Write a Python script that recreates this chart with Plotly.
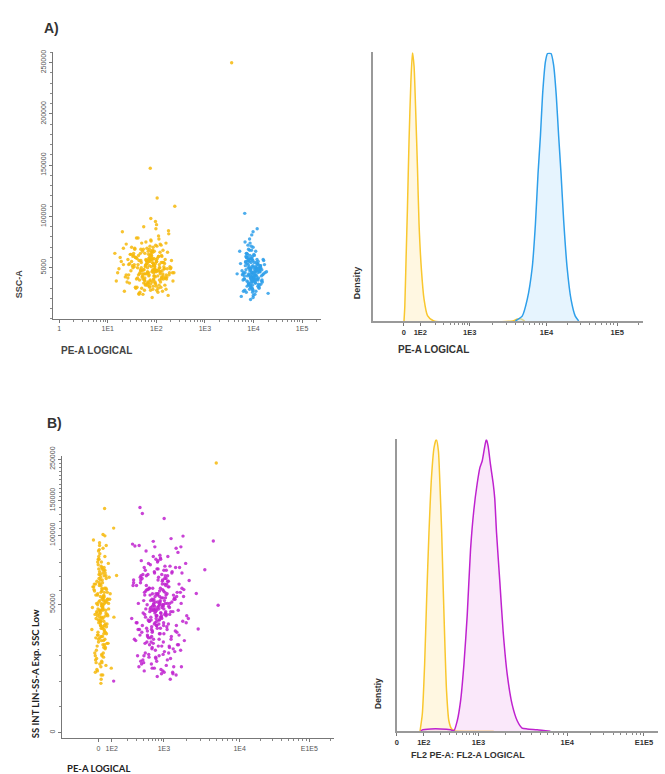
import numpy as np
import plotly.graph_objects as go

# ---------------- DATA ----------------
# Panel A scatter: PE-A (log) vs SSC-A (values in thousands for SSC-A lists)
a_yel_x = [72, 45, 110, 88, 31, 150, 64, 95, 22, 58,
           130, 76, 41, 180, 67, 100, 52, 85, 28, 120,
           61, 93, 37, 205, 70, 48, 115, 82, 18, 140,
           66, 98, 55, 79, 34, 160, 73, 44, 125, 90,
           26, 105, 60, 87, 39, 230, 69, 50, 118, 84,
           15, 135, 63, 96, 57, 78, 30, 170, 75, 42,
           112, 91, 24, 145, 65, 102, 53, 81, 36, 190,
           71, 47, 122, 86, 20, 155, 62, 99, 56, 80,
           33, 128, 74, 46, 108, 89, 27, 165, 68, 94,
           51, 83, 38, 240, 59, 49, 116, 77, 17, 138,
           64, 97, 54, 92, 32, 175, 72, 43, 113, 85,
           25, 148, 66, 101, 58, 79, 40, 200, 70, 45,
           119, 88, 21, 132, 61, 104, 52, 76, 35, 158,
           75, 3550]
a_yel_y_k = [52, 38, 61, 45, 70, 33, 55, 48, 27, 64,
             41, 58, 50, 83, 36, 47, 66, 29, 54, 44,
             75, 49, 31, 57, 42, 68, 53, 21, 60, 39,
             46, 88, 35, 51, 62, 43, 56, 25, 72, 48,
             40, 59, 34, 52, 79, 45, 63, 30, 50, 67,
             37, 55, 44, 95, 28, 58, 47, 65, 38, 53,
             61, 42, 73, 49, 33, 56, 24, 46, 69, 51,
             43, 64, 36, 54, 85, 40, 57, 32, 48, 62,
             50, 39, 71, 45, 26, 59, 53, 41, 66, 35,
             47, 58, 30, 110, 44, 55, 38, 63, 49, 42,
             57, 34, 68, 46, 52, 23, 60, 43, 78, 48,
             36, 54, 45, 92, 40, 61, 31, 50, 56, 44,
             65, 39, 53, 47, 58, 118, 42, 28, 51, 74,
             147, 250]
a_yel_x2 = [56, 128, 35, 82, 103, 47, 158, 69, 23, 91,
            115, 60, 40, 186, 77, 53, 96, 29, 134, 84,
            64, 107, 19, 73, 143, 50, 88, 37, 121, 67,
            98, 44, 168, 79, 27, 111, 58, 92, 33, 150,
            71, 126, 48, 86, 14, 102, 62, 215, 39, 81,
            54, 137, 76, 31, 95, 66, 178, 43, 109, 87,
            24, 120, 59, 74, 152, 46, 99, 36, 83, 68,
            130, 52, 90, 21, 114, 63, 195, 41, 78, 105,
            57, 142, 34, 89, 70, 16, 124, 61, 97, 49,
            80, 162, 44, 103, 28, 75, 136, 55, 93, 38,
            118, 65, 86, 26, 146, 72, 51, 100, 42, 183,
            60, 94, 30, 111, 77, 48, 127, 69, 85, 220]
a_yel_y2_k = [44, 62, 53, 36, 71, 48, 29, 57, 41, 66,
              50, 33, 59, 45, 77, 39, 54, 63, 27, 47,
              69, 42, 56, 31, 51, 74, 38, 60, 46, 35,
              58, 24, 49, 65, 43, 81, 37, 52, 61, 40,
              32, 55, 47, 70, 64, 28, 53, 45, 39, 59,
              48, 67, 34, 56, 41, 50, 86, 62, 30, 54,
              43, 73, 51, 37, 58, 26, 46, 68, 55, 35,
              61, 44, 52, 69, 33, 57, 49, 40, 76, 47,
              38, 55, 64, 42, 59, 45, 31, 53, 72, 50,
              66, 39, 57, 47, 35, 62, 44, 90, 51, 60,
              46, 54, 32, 58, 49, 68, 41, 56, 79, 43,
              52, 36, 63, 48, 98, 57, 40, 45, 65, 37]
a_blu_x = [9300, 7400, 11800, 8600, 13500, 6200, 10200, 8000, 15200, 9800,
           7000, 12400, 8900, 5600, 10800, 9500, 14300, 7800, 11200, 8300,
           16800, 9100, 6700, 10500, 8800, 12900, 7600, 9900, 5200, 11500,
           8500, 13800, 9600, 7200, 10900, 6500, 12100, 9200, 18500, 8100,
           10100, 7900, 14800, 9400, 6900, 11600, 8700, 13200, 7300, 10400,
           4600, 9700, 12600, 8400, 11000, 7700, 9000, 15800, 6400, 10700,
           8200, 12200, 9500, 7100, 13900, 8900, 10300, 5900, 11900, 9300,
           7500, 16200, 8800, 10600, 6800, 12700, 9100, 7900, 11300, 20000,
           8600, 10000, 13100, 7400, 9800, 6100, 11700, 8300, 14600, 9600,
           6600]
a_blu_y_k = [45, 32, 58, 40, 51, 27, 63, 43, 36, 70,
             48, 38, 55, 22, 46, 61, 34, 50, 42, 29,
             53, 44, 75, 37, 49, 31, 57, 41, 66, 47,
             35, 52, 26, 60, 43, 39, 54, 82, 46, 33,
             40, 68, 48, 30, 56, 42, 19, 50, 37, 62,
             44, 28, 53, 47, 35, 72, 41, 58, 39, 24,
             51, 45, 33, 64, 49, 38, 55, 43, 88, 36,
             42, 57, 31, 46, 52, 40, 67, 34, 48, 25,
             59, 39, 47, 54, 21, 44, 50, 78, 37, 45,
             103]
a_blu_x2 = [9000, 11400, 7700, 10600, 8400, 13000, 6300, 9700, 12000, 8100,
            10300, 7100, 14100, 9200, 11100, 5800, 8700, 12500, 9500, 7600,
            10800, 8300, 15500, 9000, 6600, 11800, 8800, 13400, 7300, 10000,
            9400, 12300, 8000, 17200, 10500, 7000, 9900, 11500, 5400, 8600,
            12800, 9100, 7900, 10700, 14000, 8500, 6100, 11300, 9600, 8200,
            10100, 13600, 7500, 9300, 12100, 8900, 16000, 6900, 10400, 9800,
            7800, 11000, 8700, 14500, 9400, 6700, 12600, 10200, 8300, 11700,
            9100, 7200, 13300, 10900, 8000, 15000, 9700, 6500, 11200, 8800]
a_blu_y2_k = [41, 55, 36, 48, 62, 30, 45, 52, 39, 58,
              44, 26, 50, 38, 66, 47, 33, 56, 42, 60,
              35, 49, 43, 71, 28, 53, 40, 46, 64, 37,
              51, 32, 57, 45, 39, 61, 23, 48, 54, 42,
              47, 59, 34, 43, 52, 74, 38, 50, 29, 56,
              40, 46, 63, 36, 49, 31, 44, 55, 41, 85,
              53, 37, 48, 42, 58, 45, 34, 50, 67, 39,
              46, 60, 33, 51, 44, 38, 57, 42, 27, 49]

# Panel A histogram (logical channel 0-1024, normalised density)
ha_yel_x = [118, 121, 126, 131, 137, 144, 150, 156, 162, 169, 175, 184, 194, 207, 231, 530, 545, 560, 575]
ha_yel_y = [0, 0.055, 0.24, 0.42, 0.67, 0.89, 1.0, 0.95, 0.79, 0.57, 0.36, 0.19, 0.08, 0.02, 0, 0, 0.006, 0.008, 0]
ha_blu_x = [540, 566, 585, 604, 616, 626, 635, 644, 654, 662, 675, 685, 695, 704, 713, 723, 736, 751, 767, 780]
ha_blu_y = [0, 0.018, 0.08, 0.20, 0.36, 0.55, 0.69, 0.855, 0.966, 0.996, 0.996, 0.953, 0.84, 0.69,
            0.55, 0.375, 0.20, 0.08, 0.018, 0]

# Panel B scatter (logical channels 0-1024 on both axes)
b_yel_x = [150, 138, 162, 145, 171, 131, 155, 142, 168, 127,
           158, 147, 135, 176, 152, 140, 164, 119, 149, 157,
           143, 166, 133, 154, 182, 146, 139, 160, 124, 151,
           137, 159, 148, 172, 129, 153, 144, 167, 113, 156,
           161, 141, 150, 134, 175, 147, 158, 126, 163, 145,
           152, 136, 169, 143, 157, 121, 148, 165, 139, 154,
           130, 160, 146, 178, 141, 155, 134, 163, 150, 117,
           149, 170, 137, 153, 144, 186, 128, 159, 142, 166,
           156, 132, 151, 145, 173, 138, 162, 123, 154, 147,
           140, 164, 135, 158, 148, 125, 168, 143, 152, 196,
           161, 195, 581, 206]
b_yel_y = [480, 350, 610, 420, 530, 290, 690, 450, 380, 560,
           510, 260, 640, 470, 400, 580, 330, 720, 440, 500,
           365, 590, 455, 230, 525, 410, 660, 490, 310, 545,
           430, 620, 370, 505, 275, 565, 460, 700, 395, 515,
           340, 555, 485, 245, 635, 425, 520, 300, 600, 465,
           575, 385, 495, 670, 355, 540, 215, 445, 615, 475,
           320, 530, 410, 585, 465, 740, 375, 500, 280, 550,
           490, 345, 650, 435, 560, 255, 520, 395, 605, 455,
           405, 570, 300, 515, 445, 680, 360, 535, 470, 200,
           595, 415, 485, 330, 625, 450, 540, 270, 505, 440,
           834, 763, 999, 591]
b_yel_x2 = [146, 159, 133, 152, 168, 140, 155, 127, 161, 144,
            151, 137, 164, 148, 122, 157, 142, 174, 135, 153,
            160, 145, 131, 156, 149, 180, 139, 162, 128, 150,
            143, 166, 154, 134, 158, 147, 115, 163, 141, 170,
            152, 129, 157, 146, 165, 138, 151, 176, 132, 159,
            148, 162, 136, 155, 120, 144, 167, 150, 139, 157,
            134, 153, 171, 142, 160, 147, 126, 156, 145, 164,
            154, 140, 149, 173, 137, 158, 131, 151, 166, 143]
b_yel_y2 = [455, 590, 335, 510, 405, 650, 470, 285, 545, 425,
            615, 375, 495, 230, 560, 440, 700, 345, 525, 480,
            390, 575, 460, 310, 640, 505, 420, 735, 365, 535,
            500, 265, 600, 445, 380, 555, 475, 325, 685, 415,
            540, 435, 295, 585, 465, 360, 620, 490, 250, 515,
            400, 660, 470, 340, 550, 430, 580, 305, 495, 610,
            520, 370, 450, 710, 410, 530, 240, 485, 595, 385,
            465, 565, 355, 505, 630, 425, 490, 275, 545, 440]
b_mag_x = [365, 330, 398, 348, 420, 305, 372, 355, 441, 318,
           386, 340, 362, 410, 292, 378, 352, 430, 325, 368,
           345, 392, 312, 375, 458, 338, 360, 402, 285, 383,
           357, 415, 333, 370, 300, 395, 350, 437, 322, 380,
           363, 342, 405, 310, 388, 468, 354, 328, 376, 418,
           296, 367, 346, 399, 336, 446, 359, 315, 384, 352,
           425, 332, 371, 270, 390, 344, 412, 361, 308, 379,
           349, 435, 326, 366, 403, 290, 374, 341, 452, 358,
           319, 387, 353, 422, 335, 369, 278, 396, 347, 408,
           364, 303, 381, 339, 428, 356, 316, 393, 343, 476,
           373, 327, 401, 351, 288, 385, 362, 433, 311, 377,
           344, 414, 331, 368, 297, 391, 356, 448, 323, 382,
           360, 337, 406, 314, 389, 263, 371, 348, 426, 357,
           301, 379, 340, 397, 329, 443, 366, 320, 387, 354,
           294, 303, 385, 275, 570, 538, 506, 513, 588, 479, 456, 195]
b_mag_y = [470, 340, 590, 415, 520, 285, 650, 445, 375, 555,
           500, 255, 615, 460, 395, 570, 320, 690, 430, 485,
           360, 580, 450, 235, 515, 405, 640, 480, 300, 535,
           425, 605, 365, 495, 270, 560, 455, 675, 390, 510,
           335, 545, 475, 245, 625, 420, 525, 295, 595, 460,
           565, 380, 490, 660, 350, 530, 225, 440, 610, 470,
           315, 520, 400, 575, 455, 715, 370, 495, 275, 540,
           480, 340, 635, 430, 550, 260, 510, 390, 600, 445,
           400, 560, 295, 505, 440, 665, 355, 525, 465, 215,
           585, 410, 480, 325, 620, 445, 535, 265, 500, 435,
           455, 305, 570, 420, 490, 240, 645, 385, 530, 475,
           345, 600, 460, 515, 280, 555, 410, 695, 370, 485,
           520, 395, 450, 310, 590, 435, 545, 255, 505, 465,
           385, 575, 330, 490, 425, 620, 360, 540, 450, 290,
           838, 816, 798, 698, 716, 612, 526, 397, 483, 573, 734, 208]
b_mag_x2 = [372, 318, 405, 346, 431, 299, 384, 357, 452, 329,
            393, 338, 367, 417, 281, 376, 350, 439, 312, 361,
            340, 398, 306, 381, 466, 334, 365, 411, 273, 388,
            352, 421, 324, 374, 294, 400, 345, 447, 317, 383,
            368, 336, 409, 302, 391, 461, 358, 321, 380, 424,
            287, 371, 343, 404, 330, 455, 362, 309, 389, 348,
            432, 326, 375, 266, 395, 341, 418, 364, 298, 384,
            353, 441, 320, 370, 407, 283, 378, 337, 459, 355,
            313, 392, 349, 427, 332, 373, 270, 401, 344, 414,
            367, 295, 386, 335, 434, 359, 310, 397, 339, 470,
            378, 322, 406, 354, 280, 390, 366, 438, 305, 382,
            341, 419, 328, 371, 291, 396, 360, 450, 316, 387,
            357, 333, 411, 308, 394, 268, 376, 345, 430, 362,
            297, 383, 337, 402, 325, 449, 370, 314, 392, 351]
b_mag_y2 = [455, 590, 330, 505, 410, 645, 470, 280, 545, 425,
            610, 370, 490, 240, 555, 435, 695, 340, 520, 475,
            385, 570, 455, 305, 635, 500, 415, 725, 360, 530,
            495, 260, 595, 440, 375, 550, 470, 320, 680, 410,
            535, 430, 290, 580, 460, 355, 615, 485, 245, 510,
            395, 655, 465, 335, 545, 425, 575, 300, 490, 605,
            515, 365, 445, 705, 405, 525, 235, 480, 590, 380,
            460, 560, 350, 500, 625, 420, 485, 270, 540, 435,
            345, 520, 600, 390, 470, 250, 565, 415, 660, 495,
            430, 585, 315, 475, 530, 400, 620, 285, 505, 445,
            560, 375, 490, 650, 420, 510, 300, 465, 595, 350,
            480, 325, 545, 440, 700, 395, 525, 260, 470, 580,
            410, 630, 360, 500, 450, 555, 335, 485, 230, 525,
            575, 420, 465, 310, 540, 490, 380, 610, 445, 515]

# Panel B histogram
hb_yel_x = [91, 100, 109, 117, 126, 136, 146, 155, 163, 169, 176, 182, 189, 195, 204, 215, 231, 380]
hb_yel_y = [0, 0.059, 0.228, 0.453, 0.679, 0.870, 0.972, 1.0, 0.961, 0.848, 0.679, 0.487, 0.284,
            0.138, 0.036, 0.008, 0.002, 0]
hb_mag_x = [95, 100, 133, 172, 211, 224, 237, 250, 263, 276, 289, 302, 315, 326, 335, 344, 351, 358,
            367, 378, 384, 391, 404, 417, 433, 452, 472, 491, 511, 550, 602]
hb_mag_y = [0, 0.005, 0.008, 0.008, 0.005, 0.002, 0.036, 0.104, 0.228, 0.397, 0.622, 0.758, 0.848,
            0.904, 0.927, 0.972, 1.0, 0.977, 0.915, 0.848, 0.797, 0.679, 0.510, 0.340, 0.194, 0.092,
            0.036, 0.011, 0.008, 0.005, 0]

# Tick labels
a_sc_xticks = [1, 10, 100, 1000, 10000, 100000]
a_sc_xtext = ["1", "1E1", "1E2", "1E3", "1E4", "1E5"]
a_sc_yticks = [50000, 100000, 150000, 200000, 250000]
a_sc_ytext = ["5000", "100000", "150000", "200000", "250000"]
ha_xticks = [117, 180, 367, 658, 926]
ha_xtext = ["0", "1E2", "1E3", "1E4", "1E5"]
b_sc_xticks = [138, 188, 384, 669, 931]
b_sc_xtext = ["0", "1E2", "1E3", "1E4", "E1E5"]
b_sc_yticks = [21, 487, 737, 863, 1013]
b_sc_yvals = [0, 50000, 100000, 150000, 250000]
b_sc_ytext = ["0", "50000", "100000", "150000", "250000"]
hb_xticks = [0, 106, 320, 668, 969]
hb_xtext = ["0", "1E2", "1E3", "1E4", "E1E5"]

assert len(a_yel_x) == len(a_yel_y_k) and len(a_yel_x2) == len(a_yel_y2_k)
assert len(a_blu_x) == len(a_blu_y_k) and len(a_blu_x2) == len(a_blu_y2_k)
assert len(b_yel_x) == len(b_yel_y) and len(b_yel_x2) == len(b_yel_y2)
assert len(b_mag_x) == len(b_mag_y) and len(b_mag_x2) == len(b_mag_y2)

# ---------------- COLOURS ----------------
YEL = "#F6B80C"
YEL_LINE = "#F9C72E"
BLU = "#2E9FEA"
MAG = "#BF22CF"

W, H = 665, 774


def px_x(p):
    return p / W


def px_y(p):
    return 1 - p / H


def log_minors(dec, end):
    out = []
    pts = list(dec)
    step = pts[-1] - pts[-2]
    while pts[-1] + step * np.log10(2) < end:
        pts.append(pts[-1] + step)
    for a, b in zip(pts[:-1], pts[1:]):
        for m in range(2, 10):
            v = a + (b - a) * np.log10(m)
            if v < end:
                out.append(v)
    return out


MS = 3.4
fig = go.Figure()

# Panel A scatter
fig.add_trace(go.Scatter(x=a_yel_x + a_yel_x2, y=[v * 1000 for v in a_yel_y_k + a_yel_y2_k],
                         mode="markers",
                         marker=dict(color=YEL, size=MS, opacity=0.85, line=dict(width=0)),
                         xaxis="x", yaxis="y"))
fig.add_trace(go.Scatter(x=a_blu_x + a_blu_x2, y=[v * 1000 for v in a_blu_y_k + a_blu_y2_k],
                         mode="markers",
                         marker=dict(color=BLU, size=MS, opacity=0.85, line=dict(width=0)),
                         xaxis="x", yaxis="y"))
# Panel A histogram
fig.add_trace(go.Scatter(x=ha_yel_x, y=ha_yel_y, mode="lines", fill="tozeroy",
                         line=dict(color=YEL_LINE, width=1.5, shape="spline", smoothing=0.6),
                         fillcolor="rgba(255,232,170,0.35)", xaxis="x2", yaxis="y2"))
fig.add_trace(go.Scatter(x=ha_blu_x, y=ha_blu_y, mode="lines", fill="tozeroy",
                         line=dict(color=BLU, width=1.5, shape="spline", smoothing=0.6),
                         fillcolor="rgba(200,230,252,0.45)", xaxis="x2", yaxis="y2"))
# Panel B scatter
fig.add_trace(go.Scatter(x=b_yel_x + b_yel_x2, y=b_yel_y + b_yel_y2, mode="markers",
                         marker=dict(color=YEL, size=MS, opacity=0.85, line=dict(width=0)),
                         xaxis="x3", yaxis="y3"))
fig.add_trace(go.Scatter(x=b_mag_x + b_mag_x2, y=b_mag_y + b_mag_y2, mode="markers",
                         marker=dict(color=MAG, size=MS, opacity=0.85, line=dict(width=0)),
                         xaxis="x3", yaxis="y3"))
# Panel B histogram
fig.add_trace(go.Scatter(x=hb_yel_x, y=hb_yel_y, mode="lines", fill="tozeroy",
                         line=dict(color=YEL_LINE, width=1.5, shape="spline", smoothing=0.6),
                         fillcolor="rgba(255,232,170,0.35)", xaxis="x4", yaxis="y4"))
fig.add_trace(go.Scatter(x=hb_mag_x, y=hb_mag_y, mode="lines", fill="tozeroy",
                         line=dict(color=MAG, width=1.5, shape="spline", smoothing=0.6),
                         fillcolor="rgba(245,205,245,0.45)", xaxis="x4", yaxis="y4"))

tick_font = dict(family="Liberation Sans, Arial", size=7, color="#555")
bold_tick_font = dict(family="Liberation Sans, Arial", size=7.5, color="#333", weight="bold")
base_ax = dict(showgrid=False, zeroline=False, showline=True, linecolor="#777", linewidth=1,
               ticks="outside", ticklen=3, tickcolor="#777", tickwidth=1)

a_minor_x = [m * 10 ** k for k in range(0, 6) for m in range(2, 10) if m * 10 ** k < 10 ** 5.39]

fig.update_layout(
    width=W, height=H, margin=dict(l=0, r=0, t=0, b=0),
    paper_bgcolor="white", plot_bgcolor="white", showlegend=False,
    xaxis=dict(base_ax, domain=[px_x(51), px_x(320)], anchor="y", type="log", range=[-0.13, 5.39],
               tickmode="array", tickvals=a_sc_xticks, ticktext=a_sc_xtext, tickfont=tick_font,
               minor=dict(tickmode="array", tickvals=a_minor_x, ticks="outside", ticklen=2,
                          tickcolor="#888", showgrid=False)),
    yaxis=dict(base_ax, domain=[px_y(313), px_y(43)], anchor="x", range=[0, 260000],
               tickmode="array", tickvals=a_sc_yticks, ticktext=a_sc_ytext, tickangle=-90,
               tickfont=tick_font,
               minor=dict(dtick=10000, tick0=0, ticks="outside", ticklen=2, tickcolor="#888",
                          showgrid=False)),
    xaxis2=dict(base_ax, domain=[px_x(372), px_x(643)], anchor="y2", range=[0, 1024],
                linecolor="#999", linewidth=1.5,
                tickmode="array", tickvals=ha_xticks, ticktext=ha_xtext, tickfont=bold_tick_font,
                minor=dict(tickmode="array", tickvals=log_minors(ha_xticks[1:], 1024), ticks="outside",
                           ticklen=2, tickcolor="#888", showgrid=False)),
    yaxis2=dict(showgrid=False, zeroline=False, showline=True, linecolor="#999", linewidth=1.5,
                domain=[px_y(315), px_y(43)], anchor="x2", range=[0, 1.0], showticklabels=False,
                ticks=""),
    xaxis3=dict(base_ax, domain=[px_x(60), px_x(333)], anchor="y3", range=[0, 1024],
                tickmode="array", tickvals=b_sc_xticks, ticktext=b_sc_xtext, tickfont=tick_font,
                minor=dict(tickmode="array", tickvals=log_minors(b_sc_xticks[1:], 1024), ticks="outside",
                           ticklen=2, tickcolor="#888", showgrid=False)),
    yaxis3=dict(base_ax, domain=[px_y(738), px_y(452)], anchor="x3", range=[0, 1024],
                tickmode="array", tickvals=b_sc_yticks, ticktext=b_sc_ytext, tickangle=-90,
                tickfont=tick_font,
                minor=dict(tickmode="array",
                           tickvals=list(np.interp(np.arange(10000, 250001, 10000),
                                                   b_sc_yvals, b_sc_yticks)),
                           ticks="outside", ticklen=2, tickcolor="#888", showgrid=False)),
    xaxis4=dict(base_ax, domain=[px_x(396), px_x(658)], anchor="y4", range=[0, 1024],
                linecolor="#999", linewidth=1.5,
                tickmode="array", tickvals=hb_xticks, ticktext=hb_xtext, tickfont=bold_tick_font,
                minor=dict(tickmode="array", tickvals=log_minors(hb_xticks[1:], 1024), ticks="outside",
                           ticklen=2, tickcolor="#888", showgrid=False)),
    yaxis4=dict(showgrid=False, zeroline=False, showline=True, linecolor="#999", linewidth=1.5,
                domain=[px_y(730.7), px_y(435)], anchor="x4", range=[0, 1.0], showticklabels=False,
                ticks=""),
)

ann_font = "Liberation Sans, Arial"
annotations = [
    dict(text="A)", x=px_x(40), y=px_y(18), xanchor="left", yanchor="middle",
         font=dict(family=ann_font, size=14, color="#333", weight="bold")),
    dict(text="B)", x=px_x(43), y=px_y(418), xanchor="left", yanchor="middle",
         font=dict(family=ann_font, size=14, color="#333", weight="bold")),
    dict(text="SSC-A", x=px_x(17), y=px_y(277), xanchor="center", yanchor="middle", textangle=-90,
         font=dict(family=ann_font, size=9, color="#444", weight="bold")),
    dict(text="PE-A LOGICAL", x=px_x(57), y=px_y(345), xanchor="left", yanchor="middle",
         font=dict(family=ann_font, size=10, color="#444", weight="bold")),
    dict(text="Density", x=px_x(357), y=px_y(276), xanchor="center", yanchor="middle", textangle=-90,
         font=dict(family=ann_font, size=9, color="#333", weight="bold")),
    dict(text="PE-A LOGICAL", x=px_x(395), y=px_y(344), xanchor="left", yanchor="middle",
         font=dict(family=ann_font, size=10, color="#333", weight="bold")),
    dict(text="SS INT LIN-SS-A Exp. SSC Low", x=px_x(33), y=px_y(672), xanchor="center",
         yanchor="middle", textangle=-90,
         font=dict(family="Lato, Liberation Sans", size=9.5, color="#222", weight="bold")),
    dict(text="PE-A LOGICAL", x=px_x(63), y=px_y(768), xanchor="left", yanchor="middle",
         font=dict(family="Lato, Liberation Sans", size=9.5, color="#222", weight="bold")),
    dict(text="Denstiy", x=px_x(377), y=px_y(692), xanchor="center", yanchor="middle", textangle=-90,
         font=dict(family=ann_font, size=8.5, color="#333", weight="bold")),
    dict(text="FL2 PE-A: FL2-A LOGICAL", x=px_x(408), y=px_y(755), xanchor="left", yanchor="middle",
         font=dict(family=ann_font, size=9, color="#333", weight="bold")),
]
for a in annotations:
    a.update(xref="paper", yref="paper", showarrow=False)
fig.update_layout(annotations=annotations)

fig.write_html("out.html", config={"displayModeBar": False},
               post_script="document.body.style.margin='0px';document.body.style.overflow='hidden';")
